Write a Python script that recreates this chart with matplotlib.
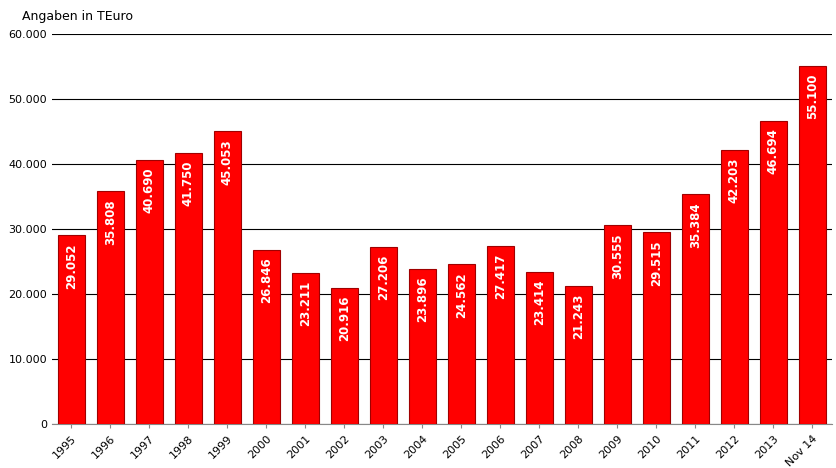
import matplotlib
matplotlib.use("Agg")
import matplotlib.pyplot as plt

categories = ["1995","1996","1997","1998","1999","2000","2001","2002","2003","2004",
              "2005","2006","2007","2008","2009","2010","2011","2012","2013","Nov 14"]
values = [29052,35808,40690,41750,45053,26846,23211,20916,27206,23896,
          24562,27417,23414,21243,30555,29515,35384,42203,46694,55100]
yticks = [0,10000,20000,30000,40000,50000,60000]

def fmt(v):
    return f"{v:,}".replace(",", ".")

fig = plt.figure(figsize=(8.36,4.68), dpi=100)
ax = fig.add_axes([0.062,0.094,0.933,0.833])
x = range(len(categories))
ax.bar(x, values, width=0.7, color="#ff0000", edgecolor="#a00000", linewidth=0.8, zorder=3)
for i, v in enumerate(values):
    ax.text(i, v - 1200, fmt(v), rotation=90, ha="center", va="top",
            color="white", fontweight="bold", fontsize=8.5, zorder=4)
ax.set_xlim(-0.5, len(categories)-0.5)
ax.set_ylim(0, 60000)
ax.set_yticks(yticks)
ax.set_yticklabels(["0" if t == 0 else fmt(t) for t in yticks], fontsize=8)
ax.set_xticks(list(x))
ax.set_xticklabels(categories, rotation=45, ha="right", rotation_mode="anchor", fontsize=8)
ax.yaxis.grid(True, color="black", linewidth=0.8, zorder=0)
for s in ["top","right","left"]:
    ax.spines[s].set_visible(False)
ax.spines["bottom"].set_color("#888888")
ax.tick_params(axis="y", length=0)
ax.tick_params(axis="x", length=3, color="#888888")
fig.text(0.026, 0.965, "Angaben in TEuro", fontsize=9, va="center")
fig.savefig("out.png", dpi=100)
